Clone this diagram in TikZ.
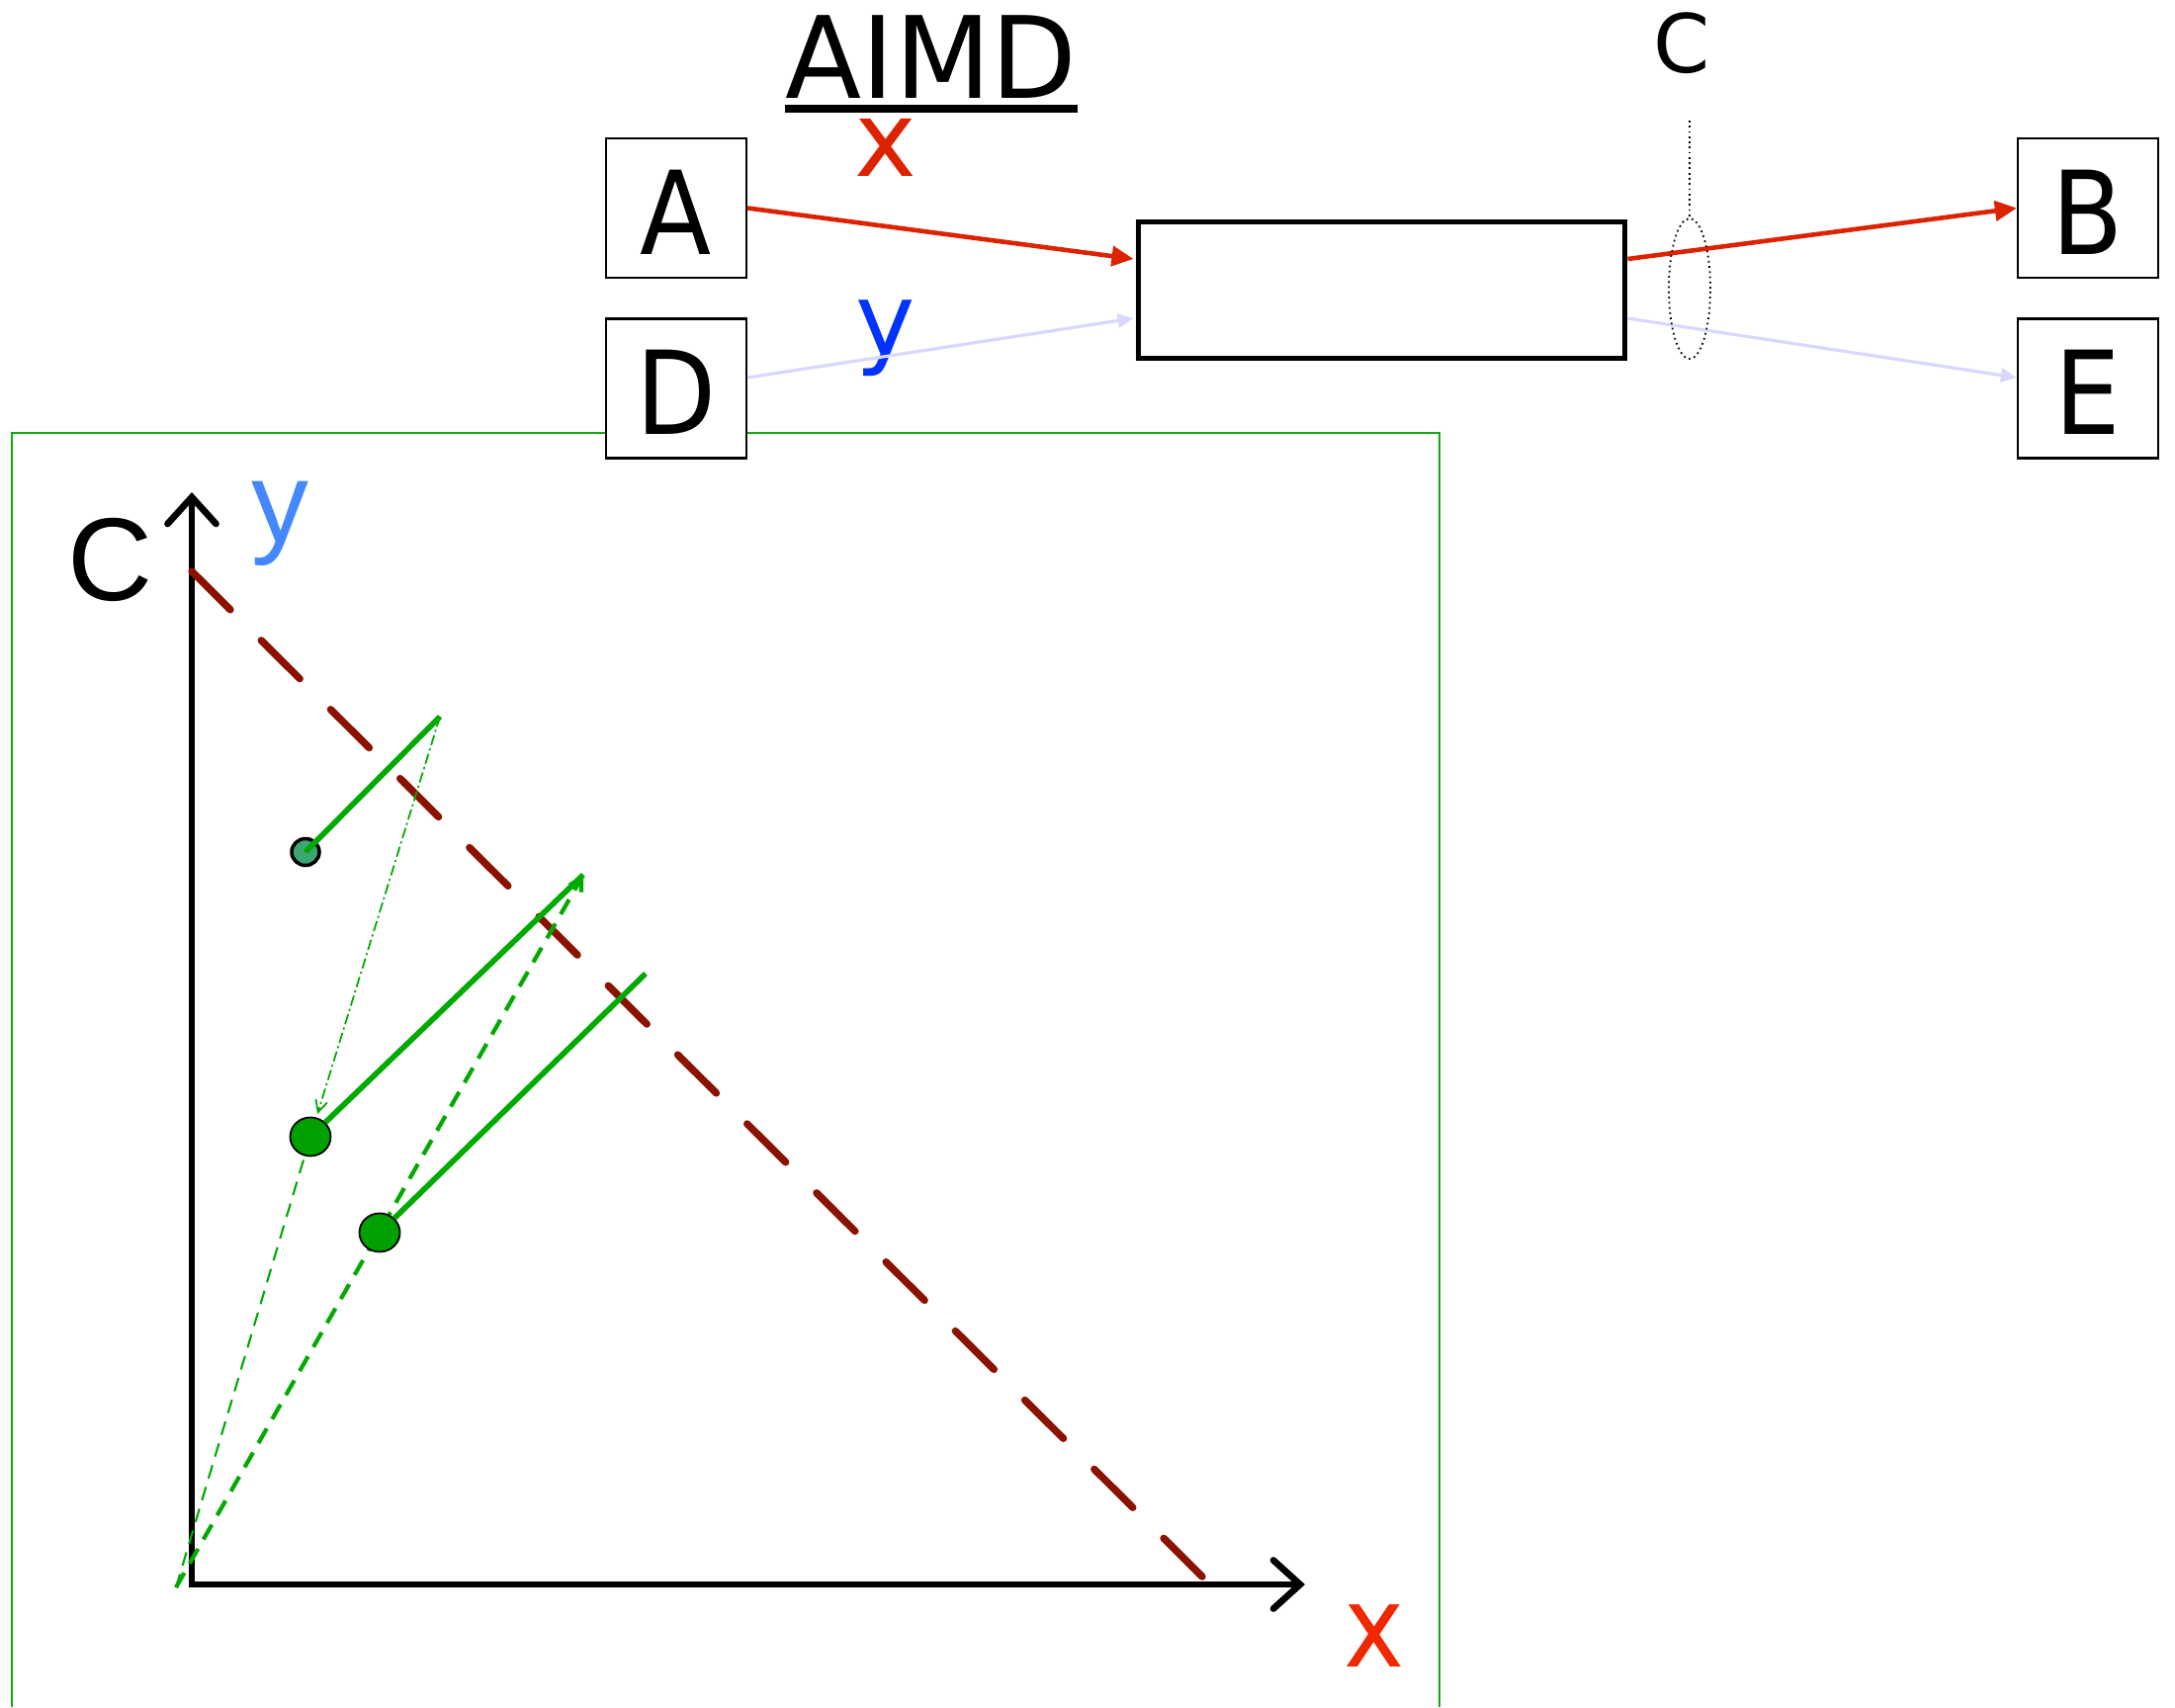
\documentclass[tikz,border=0pt]{standalone}
\usepackage{fontspec}
\setmainfont{DejaVu Sans}
\newfontfamily\arialf{Liberation Sans}
\usetikzlibrary{arrows.meta,shapes.geometric}
\definecolor{xred}{HTML}{DD2200}
\definecolor{xredb}{HTML}{F02800}
\definecolor{lav}{HTML}{D8D8FF}
\definecolor{yblue}{HTML}{0033FF}
\definecolor{ylight}{HTML}{4488FF}
\definecolor{gfr}{HTML}{11AA11}
\definecolor{gline}{HTML}{00AA00}
\definecolor{dred}{HTML}{8B1100}
\definecolor{dotteal}{HTML}{3DA572}
\definecolor{dotgreen}{HTML}{00A000}
\newcommand{\narrowtxt}[1]{\scalebox{0.9}[1]{#1}}
\begin{document}
\begin{tikzpicture}[x=0.01cm,y=-0.01cm,
  lbox/.style={draw=black,line width=0.6pt,fill=white,minimum width=1.42cm,minimum height=1.41cm,
    inner sep=0pt,font=\fontsize{33.3pt}{40pt}\selectfont,text height=0.93cm,text depth=0cm},
  mainbox/.style={draw=black,line width=1.6pt,fill=white,minimum width=4.92cm,minimum height=1.38cm,inner sep=0pt},
  redarr/.style={draw=xred,line width=1.3pt,-{Triangle[length=0.22cm,width=0.2cm]}},
  lavarr/.style={draw=lav,line width=0.9pt,-{Triangle[length=0.16cm,width=0.14cm]}},
  axisline/.style={line width=1.9pt,line cap=round,line join=miter,
    {Straight Barb[length=0.27cm,width=0.49cm,line cap=round]}-{Straight Barb[length=0.27cm,width=0.49cm,line cap=round]}},
  gsolid/.style={draw=gline,line width=1.6pt},
  gdashdot/.style={draw=gline,line width=0.5pt,dash pattern=on 3pt off 1pt on 0.6pt off 1pt,
    -{Straight Barb[length=0.12cm,width=0.12cm]}},
  gthin/.style={draw=gline,line width=0.6pt,dash pattern=on 0.14cm off 0.09cm},
  gthick/.style={draw=gline,line width=1.2pt,dash pattern=on 0.17cm off 0.11cm,
    -{Straight Barb[length=0.12cm,width=0.14cm]}},
  dotA/.style={ellipse,draw=black,line width=1pt,fill=dotteal,minimum width=0.28cm,minimum height=0.27cm,inner sep=0pt},
  dotB/.style={ellipse,draw=black,line width=0.5pt,fill=dotgreen,minimum width=0.41cm,minimum height=0.39cm,inner sep=0pt},
  lbl/.style={inner sep=0pt,anchor=base}
]
\useasboundingbox (0,0) rectangle (2200,1727);

% green frame
\coordinate (fbl) at (12,1727);
\coordinate (ftl) at (12,438);
\coordinate (ftr) at (1456,438);
\coordinate (fbr) at (1456,1727);
\draw[gfr,line width=0.6pt] (fbl) -- (ftl) -- (ftr) -- (fbr);

% boxes
\node[lbox] (A) at (684,210.5) {\narrowtxt{A}};
\node[lbox] (D) at (684,393) {\narrowtxt{D}};
\node[lbox] (B) at (2112,210.5) {\narrowtxt{B}};
\node[lbox] (E) at (2112,393) {\narrowtxt{E}};
\node[mainbox] (main) at (1397.5,293.5) {};

% title
\node[lbl,font=\fontsize{32.7pt}{40pt}\selectfont] (aimd) at (942,99) {\scalebox{0.98}[1]{AIMD}};
\draw[line width=0.08cm] ([yshift=-0.11cm]aimd.base west) -- ([yshift=-0.11cm]aimd.base east);

% labels on arrows
\node[lbl,font=\fontsize{30.2pt}{36pt}\selectfont,text=xred] (lx) at (896,178) {x};
\node[lbl,font=\fontsize{29pt}{35pt}\selectfont,text=yblue] (ly) at (896,359) {y};

% arrows
\draw[redarr] (A.east) -- ([xshift=-0.02cm,yshift=0.315cm]main.west);
\draw[lavarr] ([yshift=0.11cm]D.east) -- ([xshift=-0.02cm,yshift=-0.285cm]main.west);
\draw[redarr] ([yshift=0.315cm]main.east) -- (B.west);
\draw[lavarr] ([yshift=-0.285cm]main.east) -- ([yshift=0.11cm]E.west);

% capacity marker
\node[ellipse,draw=black,densely dotted,line width=0.5pt,minimum width=0.42cm,minimum height=1.42cm,inner sep=0pt] (ell) at (1709,292) {};
\coordinate (ctop) at (1709,122);
\draw[densely dotted,line width=0.5pt] (ctop) -- (ell.north);
\node[lbl,font=\fontsize{23.3pt}{28pt}\selectfont] (lC) at (1701,73) {C};

% axes
\coordinate (ytop) at (194,498);
\coordinate (O) at (194,1603);
\coordinate (xend) at (1320,1603);
\draw[axisline] (ytop) -- (O) -- (xend);
\node[lbl,font=\arialf\fontsize{33.9pt}{40pt}\selectfont] (lcc) at (112,607) {C};
\node[lbl,font=\arialf\fontsize{33pt}{40pt}\selectfont,text=ylight] (lyy) at (284,548) {y};
\node[lbl,font=\fontsize{32.7pt}{40pt}\selectfont,text=xredb] (lxx) at (1390,1686) {\scalebox{0.9}[1]{x}};

% capacity line
\coordinate (c1) at (194,578);
\coordinate (c2) at (1221,1600);
\draw[dred,line width=2.1pt,line cap=round,dash pattern=on 0.55cm off 0.44cm] (c1) -- (c2);

% green trajectory
\coordinate (g0) at (178,1606);
\coordinate (p1) at (445,725);
\coordinate (p2) at (590,885);
\coordinate (p3) at (653,985);
\node[dotA] (d1) at (309,862) {};
\node[dotB] (d2) at (314,1150) {};
\draw[gthin] (g0) -- (d2);
\draw[gthick] (g0) -- (p2);
\node[dotB] (d3) at (384,1247) {};
\draw[gsolid] (d1.center) -- (p1);
\draw[gdashdot,shorten >=1pt] (p1) -- (d2);
\draw[gsolid] (d2) -- (p2);
\draw[gsolid] (d3) -- (p3);
\end{tikzpicture}
\end{document}
